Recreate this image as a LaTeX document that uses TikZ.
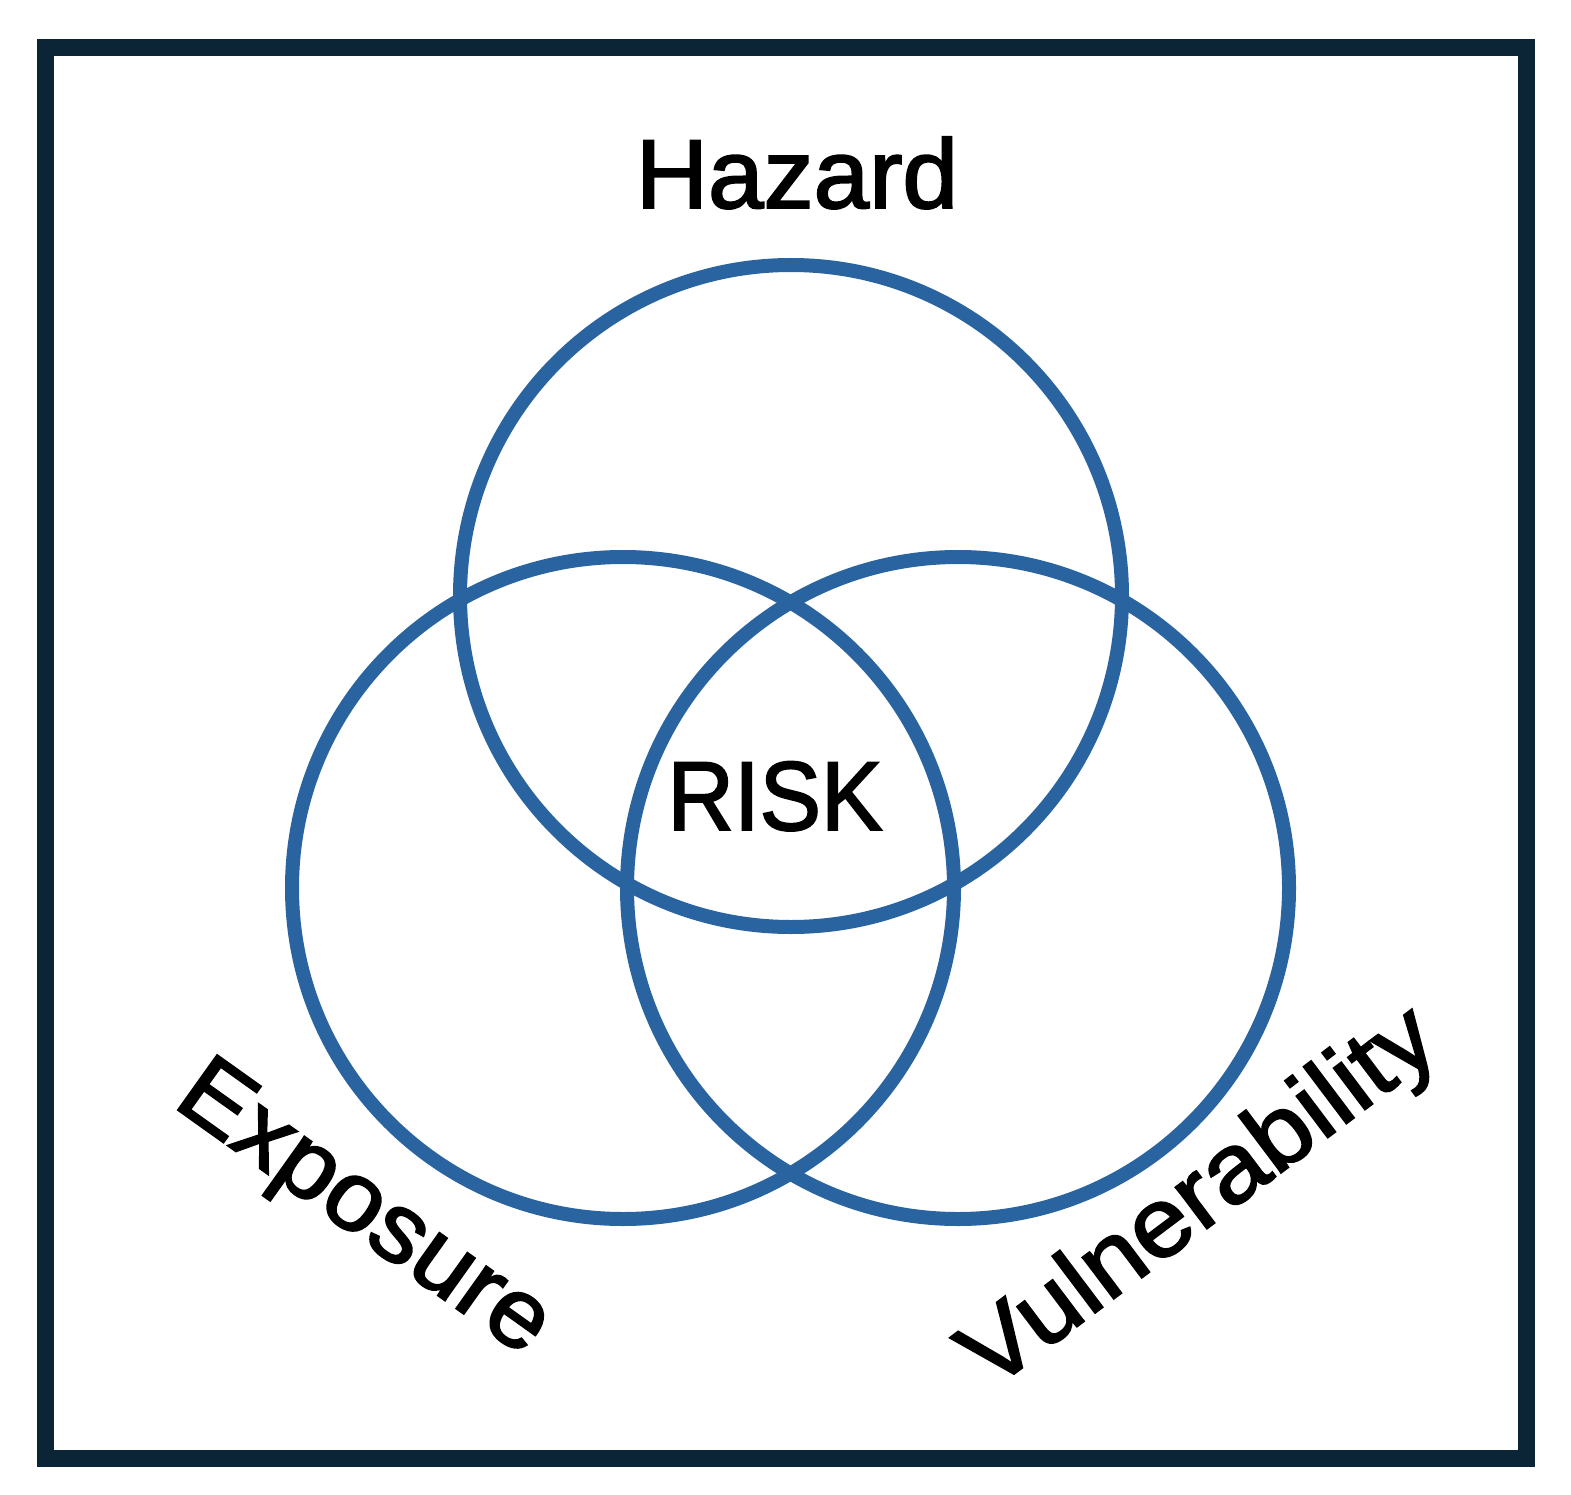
\documentclass[tikz,border=0pt]{standalone}
\usepackage{fontspec}
\setmainfont{Liberation Sans}
\newfontfamily\lblfont[FakeBold=2]{Liberation Sans}
\definecolor{framecol}{RGB}{11,37,54}
\definecolor{ringcol}{RGB}{42,100,160}
\tikzset{
  ring/.style={draw=ringcol, line width=14pt},
  lbl/.style={inner sep=0pt, font=\lblfont\fontsize{98}{98}\selectfont, text=black},
}
\begin{document}
\begin{tikzpicture}[x=1pt,y=-1pt]
\useasboundingbox (0,0) rectangle (1571,1495);
\fill[white] (0,0) rectangle (1571,1495);
\draw[framecol, line width=17pt] (45.5,47.5) rectangle (1526.5,1458);
\coordinate (cH) at (791,596);
\coordinate (cE) at (623,888);
\coordinate (cV) at (958,888);
\draw[ring] (cH) circle (331);
\draw[ring] (cE) circle (331);
\draw[ring] (cV) circle (331);
\node[lbl, anchor=base, xscale=1.02] (hazard) at (797,208) {Hazard};
\node[lbl, anchor=base, xscale=0.94] (risk) at (775,830) {RISK};
\node[lbl, anchor=base west, rotate=-35.5, xscale=1.05] (exposure) at (171,1105) {Exposure};
\node[lbl, anchor=base west, rotate=37, xscale=1.07] (vuln) at (990,1392) {Vulnerability};
\end{tikzpicture}
\end{document}
